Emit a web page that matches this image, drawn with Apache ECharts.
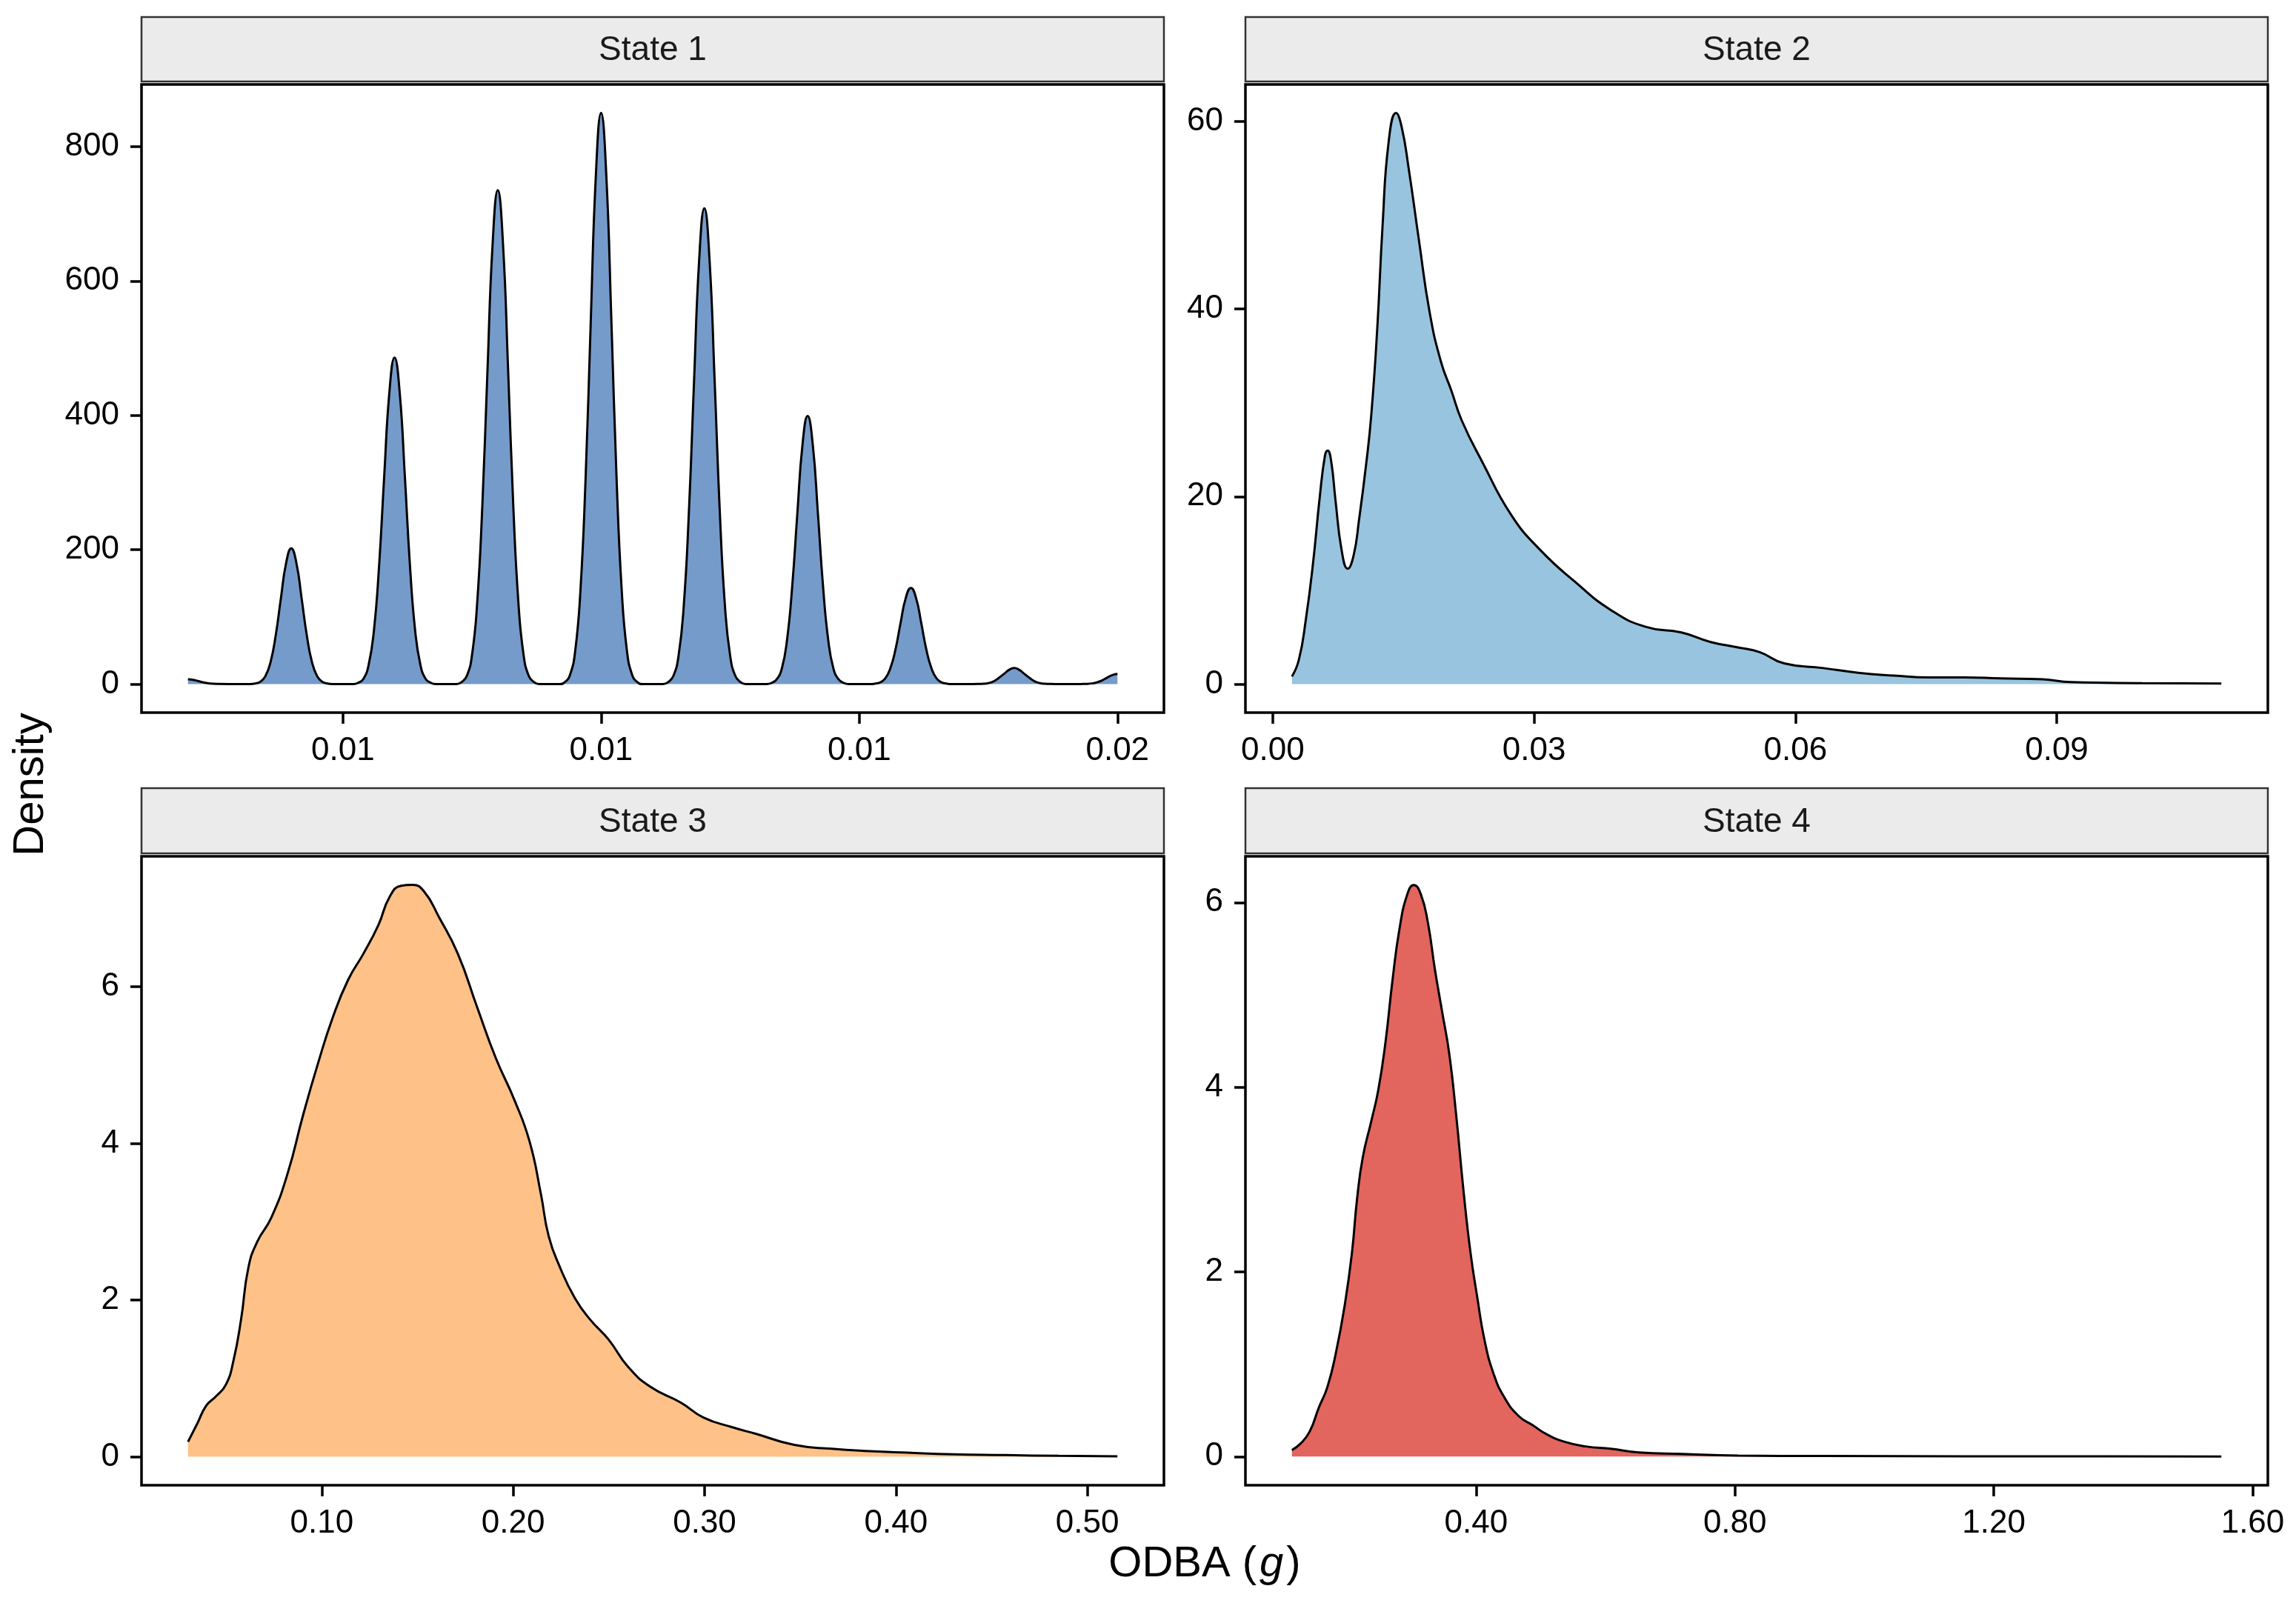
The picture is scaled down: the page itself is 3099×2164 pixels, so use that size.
<!DOCTYPE html>
<html>
<head>
<meta charset="utf-8">
<script src="https://cdn.jsdelivr.net/npm/echarts@6/dist/echarts.min.js"></script>
<style>
  html, body { margin: 0; padding: 0; background: #fff; }
  #main { width: 3099px; height: 2164px; }
</style>
</head>
<body>
<div id="main"></div>
<script>
// density curves, [ODBA, density]
var state1 = [
  [0.00600,7],[0.00605,6.3],[0.00610,4.4],[0.00615,2.5],[0.00620,1.1],[0.00625,0.4],[0.00630,0.1],[0.00640,0],
  [0.00660,0],[0.00665,0.8],[0.00670,3.4],[0.00675,12],[0.00680,33],[0.00685,73],[0.00690,128],[0.00695,180],[0.00700,202],
  [0.00705,180],[0.00710,128],[0.00715,73],[0.00720,33],[0.00725,12],[0.00730,3.4],[0.00735,0.8],[0.00740,0],
  [0.00760,0],[0.00765,2],[0.00770,8],[0.00775,29],[0.00780,79],[0.00785,175],[0.00790,309],[0.00795,434],[0.00800,486],
  [0.00805,434],[0.00810,309],[0.00815,175],[0.00820,79],[0.00825,29],[0.00830,8],[0.00835,2],[0.00840,0],
  [0.00860,0],[0.00865,3],[0.00870,12],[0.00875,43],[0.00880,120],[0.00885,265],[0.00890,467],[0.00895,656],[0.00900,735],
  [0.00905,656],[0.00910,467],[0.00915,265],[0.00920,120],[0.00925,43],[0.00930,12],[0.00935,3],[0.00940,0],
  [0.00960,0],[0.00965,3],[0.00970,14],[0.00975,50],[0.00980,139],[0.00985,306],[0.00990,540],[0.00995,759],[0.01000,850],
  [0.01005,759],[0.01010,540],[0.01015,306],[0.01020,139],[0.01025,50],[0.01030,14],[0.01035,3],[0.01040,0],
  [0.01060,0],[0.01065,3],[0.01070,12],[0.01075,42],[0.01080,115],[0.01085,255],[0.01090,450],[0.01095,632],[0.01100,708],
  [0.01105,632],[0.01110,450],[0.01115,255],[0.01120,115],[0.01125,42],[0.01130,12],[0.01135,3],[0.01140,0],
  [0.01160,0],[0.01165,1.6],[0.01170,7],[0.01175,23],[0.01180,65],[0.01185,144],[0.01190,253],[0.01195,356],[0.01200,399],
  [0.01205,356],[0.01210,253],[0.01215,144],[0.01220,65],[0.01225,23],[0.01230,7],[0.01235,1.6],[0.01240,0],
  [0.01260,0],[0.01265,0.6],[0.01270,2.4],[0.01275,8],[0.01280,23],[0.01285,51],[0.01290,91],[0.01295,128],[0.01300,143],
  [0.01305,128],[0.01310,91],[0.01315,51],[0.01320,23],[0.01325,8],[0.01330,2.4],[0.01335,0.6],[0.01340,0],
  [0.01360,0],[0.01365,0.1],[0.01370,0.4],[0.01375,1.4],[0.01380,4],[0.01385,9],[0.01390,15],[0.01395,21],[0.01400,24],
  [0.01405,21],[0.01410,15],[0.01415,9],[0.01420,4],[0.01425,1.4],[0.01430,0.4],[0.01435,0.1],[0.01440,0],
  [0.01460,0],[0.01465,0.06],[0.01470,0.25],[0.01475,0.9],[0.01480,2.4],[0.01485,5.4],[0.01490,9.5],[0.01495,13.4],[0.01500,15]
];
var state2 = [
  [0.0022,0.8],[0.0030,2.6],[0.0038,6.9],[0.0046,12.7],[0.0054,20],[0.0060,24.4],[0.0063,24.9],[0.0067,23.8],
  [0.0072,19.6],[0.0079,14.3],[0.0086,12.3],[0.0093,13.8],[0.0099,17.5],[0.0107,23.3],[0.0113,28.6],[0.0120,38],
  [0.0126,48.8],[0.0133,57.8],[0.01415,60.9],[0.0148,59.4],[0.0156,55],[0.0168,47.2],[0.0180,39.7],[0.0193,34.4],
  [0.0205,31.3],[0.0217,28.1],[0.0241,23.6],[0.0274,18.0],[0.0307,14.3],[0.0347,10.9],[0.0388,7.9],[0.0428,6.1],
  [0.0469,5.5],[0.0502,4.5],[0.0534,3.9],[0.0559,3.4],[0.0587,2.2],[0.0632,1.7],[0.0672,1.2],[0.0713,0.9],
  [0.0754,0.7],[0.0794,0.7],[0.0835,0.6],[0.0884,0.5],[0.0916,0.2],[0.0998,0.1],[0.1089,0.05]
];
var state3 = [
  [0.0301,0.19],[0.0349,0.42],[0.0396,0.65],[0.0447,0.77],[0.0499,0.92],[0.0538,1.22],[0.0578,1.75],[0.0617,2.42],
  [0.0664,2.75],[0.0736,3.05],[0.0822,3.62],[0.0901,4.35],[0.0980,5.02],[0.1059,5.62],[0.1138,6.09],[0.1217,6.42],
  [0.1296,6.79],[0.1355,7.15],[0.1415,7.29],[0.1474,7.30],[0.1533,7.22],[0.1612,6.89],[0.1711,6.42],[0.1810,5.75],
  [0.1909,5.09],[0.2007,4.55],[0.2086,4.02],[0.2145,3.35],[0.2185,2.82],[0.2244,2.42],[0.2323,2.02],[0.2402,1.75],
  [0.2500,1.49],[0.2599,1.15],[0.2718,0.89],[0.2876,0.69],[0.2994,0.50],[0.3152,0.37],[0.3270,0.29],[0.3468,0.15],
  [0.3665,0.10],[0.3862,0.07],[0.4060,0.05],[0.4297,0.03],[0.4573,0.02],[0.4850,0.01],[0.5157,0.005]
];
var state4 = [
  [0.1154,0.07],[0.1286,0.14],[0.1428,0.27],[0.1570,0.53],[0.1701,0.75],[0.1833,1.12],[0.1975,1.66],[0.2084,2.22],
  [0.2161,2.79],[0.2249,3.24],[0.2380,3.63],[0.2489,3.97],[0.2599,4.48],[0.2709,5.16],[0.2818,5.72],[0.2938,6.09],
  [0.3037,6.19],[0.3146,6.09],[0.3256,5.78],[0.3365,5.27],[0.3475,4.82],[0.3584,4.37],[0.3694,3.69],[0.3803,2.90],
  [0.3912,2.22],[0.4022,1.71],[0.4131,1.26],[0.4274,0.89],[0.4438,0.64],[0.4657,0.44],[0.4876,0.34],[0.5095,0.24],
  [0.5368,0.16],[0.5697,0.11],[0.6080,0.085],[0.6518,0.045],[0.7174,0.028],[0.8050,0.011],[0.9363,0.006],
  [1.155,0.003],[1.374,0.002],[1.5517,0.001]
];

var stateNames = ['State 1', 'State 2', 'State 3', 'State 4'];
var fillColors = ['#759BCB', '#98C4DF', '#FEC188', '#E2655E'];

// tick positions and their printed labels
var xTicks = [
  [0.0075, 0.01, 0.0125, 0.015],
  [0, 0.03, 0.06, 0.09],
  [0.1, 0.2, 0.3, 0.4, 0.5],
  [0.4, 0.8, 1.2, 1.6]
];
var xLabels = [
  ['0.01', '0.01', '0.01', '0.02'],
  ['0.00', '0.03', '0.06', '0.09'],
  ['0.10', '0.20', '0.30', '0.40', '0.50'],
  ['0.40', '0.80', '1.20', '1.60']
];
var yTicks = [
  [0, 200, 400, 600, 800],
  [0, 20, 40, 60],
  [0, 2, 4, 6],
  [0, 2, 4, 6]
];
var xRange = [[0.00555, 0.01545], [-0.00314, 0.11424], [0.0058, 0.54], [0.0436, 1.6235]];
var yRange = [[-42.5, 892.5], [-3.05, 63.95], [-0.365, 7.665], [-0.31, 6.5]];

var FONT = "'Liberation Sans', Arial, Helvetica, sans-serif";
var chart = echarts.init(document.getElementById('main'));

// panel boxes in pixels
var panels = [
  {left: 191, top: 114, width: 1380, height: 848, stripTop: 23},
  {left: 1681, top: 114, width: 1380, height: 848, stripTop: 23},
  {left: 191, top: 1156, width: 1380, height: 849, stripTop: 1064},
  {left: 1681, top: 1156, width: 1380, height: 849, stripTop: 1064}
];

function labelFor(i) {
  return function (v) {
    for (var k = 0; k < xTicks[i].length; k++) {
      if (Math.abs(xTicks[i][k] - v) < 1e-9) return xLabels[i][k];
    }
    return '';
  };
}

var grids = [], xAxes = [], yAxes = [], series = [], graphics = [];
var allData = [state1, state2, state3, state4];

for (var i = 0; i < 4; i++) {
  var p = panels[i];
  grids.push({
    left: p.left, top: p.top, width: p.width, height: p.height,
    show: true, borderColor: '#000', borderWidth: 3.5, backgroundColor: '#fff'
  });
  xAxes.push({
    gridIndex: i, type: 'value', min: xRange[i][0], max: xRange[i][1],
    axisLine: {show: false, onZero: false},
    splitLine: {show: false},
    axisTick: {show: true, length: 15, customValues: xTicks[i], lineStyle: {color: '#000', width: 3.5}},
    axisLabel: {
      customValues: xTicks[i], formatter: labelFor(i),
      fontSize: 44, fontFamily: FONT, color: '#000', margin: 30, hideOverlap: false
    }
  });
  yAxes.push({
    gridIndex: i, type: 'value', min: yRange[i][0], max: yRange[i][1],
    axisLine: {show: false, onZero: false},
    splitLine: {show: false},
    axisTick: {show: true, length: 15, customValues: yTicks[i], lineStyle: {color: '#000', width: 3.5}},
    axisLabel: {
      customValues: yTicks[i],
      fontSize: 44, fontFamily: FONT, color: '#000', margin: 30, hideOverlap: false
    }
  });
  series.push({
    type: 'line', xAxisIndex: i, yAxisIndex: i,
    data: allData[i], showSymbol: false, symbol: 'none',
    smooth: 0.5,
    lineStyle: {color: '#000', width: 3},
    areaStyle: {color: fillColors[i], opacity: 1},
    z: 3
  });
  // facet strip
  graphics.push({
    type: 'rect', z: 10,
    shape: {x: p.left, y: p.stripTop, width: p.width, height: p.top - 4 - p.stripTop},
    style: {fill: '#EBEBEB', stroke: '#333', lineWidth: 2.5}
  });
  graphics.push({
    type: 'text', z: 11,
    x: p.left + p.width / 2, y: p.stripTop + (p.top - 4 - p.stripTop) / 2 + 2,
    style: {
      text: stateNames[i], font: '46px ' + FONT, fill: '#1a1a1a',
      align: 'center', verticalAlign: 'middle', textAlign: 'center', textVerticalAlign: 'middle'
    }
  });
}

graphics.push({
  type: 'text', z: 11, x: 42, y: 1059, rotation: Math.PI / 2,
  style: {
    text: 'Density', font: '58px ' + FONT, fill: '#000',
    align: 'center', verticalAlign: 'middle', textAlign: 'center', textVerticalAlign: 'middle'
  }
});
graphics.push({
  type: 'text', z: 11, x: 1626, y: 2112,
  style: {
    text: '{n|ODBA (}{i|g}{n|)}',
    align: 'center', verticalAlign: 'middle', textAlign: 'center', textVerticalAlign: 'middle',
    rich: {
      n: {fontSize: 58, fontFamily: FONT, fill: '#000', color: '#000'},
      i: {fontSize: 58, fontFamily: FONT, fontStyle: 'italic', fill: '#000', color: '#000', padding: [0, 4, 0, 4]}
    }
  }
});

chart.setOption({
  animation: false,
  backgroundColor: '#fff',
  grid: grids,
  xAxis: xAxes,
  yAxis: yAxes,
  series: series,
  graphic: {elements: graphics}
});
</script>
</body>
</html>
